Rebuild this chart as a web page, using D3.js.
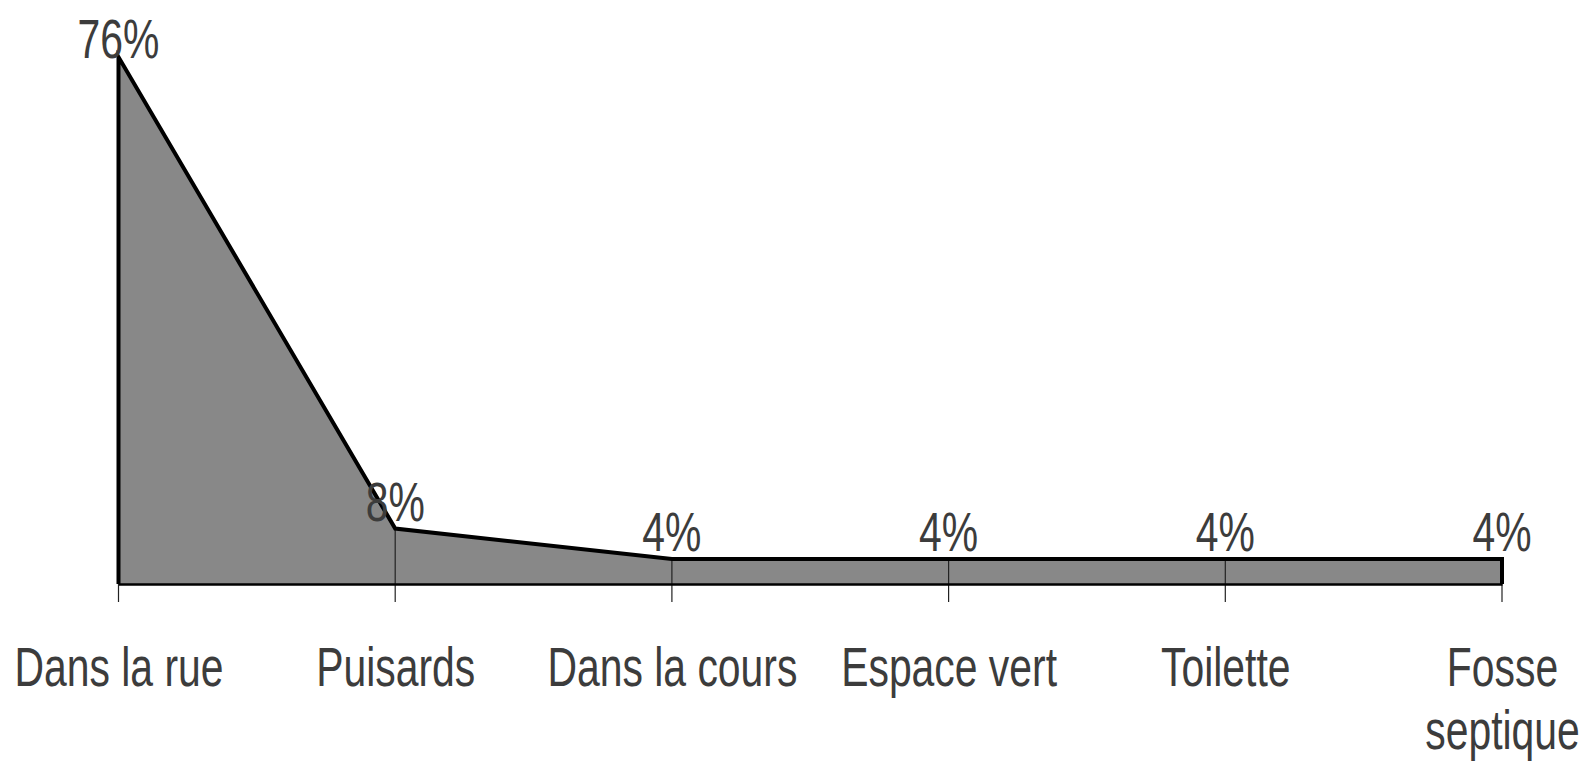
<!DOCTYPE html>
<html>
<head>
<meta charset="utf-8">
<script src="https://cdn.jsdelivr.net/npm/d3@7"></script>
<style>
    body { margin: 0; background: #fff; }
    svg { display: block; }
</style>
</head>
<body>
<div id="chart"></div>
<script>
// lieux de rejet des eaux usées
const categories = ["Dans la rue", "Puisards", "Dans la cours", "Espace vert", "Toilette", "Fosse septique"];
const values = [76, 8, 3.6, 3.6, 3.6, 3.6];
const valueLabels = ["76%", "8%", "4%", "4%", "4%", "4%"];

const width = 1587;
const height = 772;
const squeeze = 0.73;  // the original text is horizontally compressed

const svg = d3.select("#chart").append("svg").attr("width", width).attr("height", height);

const x = d3.scalePoint().domain(categories).range([118.5, 1502]);
const y = d3.scaleLinear().domain([0, 76]).range([584, 57]);

const data = categories.map((c, i) => ({ cat: c, value: values[i], label: valueLabels[i] }));

// filled area
svg.append("path").
datum(data).
attr("fill", "#888888").
attr("d", d3.area().x(d => x(d.cat)).y0(y(0)).y1(d => y(d.value)));

// drop lines through the area and ticks below
svg.append("g").
selectAll("line").
data(data).
join("line").
attr("x1", d => x(d.cat)).
attr("x2", d => x(d.cat)).
attr("y1", d => y(d.value)).
attr("y2", y(0) + 18).
attr("stroke", "#222").
attr("stroke-width", 1.2);

// axis baseline
const axis = svg.append("g").
attr("transform", "translate(0," + y(0) + ")").
call(d3.axisBottom(x).tickSize(0).tickSizeOuter(0).tickPadding(102));
axis.select(".domain").attr("stroke", "#000").attr("stroke-width", 2.5);
axis.selectAll(".tick text").
attr("fill", "#3c3c3c").
attr("font-family", "'Liberation Sans', Arial, sans-serif").
attr("font-size", 56).
attr("dy", 0).
attr("transform", "scale(" + squeeze + ",1)").
each(function(d) {
    const t = d3.select(this);
    const words = d.split(" ");
    // wrap labels wider than the space between two categories
    if(this.getComputedTextLength() * squeeze > x.step() && words.length > 1) {
        t.text(null);
        words.forEach((w, i) => {
            t.append("tspan").attr("x", 0).attr("dy", i === 0 ? 0 : 63).text(w);
        });
    }
});

// outline: left edge, top line, right edge
const outline = [[x(categories[0]), y(0)]].
concat(data.map(d => [x(d.cat), y(d.value)])).
concat([[x(categories[categories.length - 1]), y(0)]]);
svg.append("path").
attr("d", d3.line()(outline)).
attr("fill", "none").
attr("stroke", "#000").
attr("stroke-width", 4).
attr("stroke-linejoin", "miter");

// value labels
svg.append("g").
selectAll("text").
data(data).
join("text").
attr("transform", d => "translate(" + x(d.cat) + "," + Math.max(y(d.value) - 8, 58) + ") scale(" + squeeze + ",1)").
attr("text-anchor", "middle").
attr("fill", "#3c3c3c").
attr("font-family", "'Liberation Sans', Arial, sans-serif").
attr("font-size", 56).
text(d => d.label);
</script>
</body>
</html>
